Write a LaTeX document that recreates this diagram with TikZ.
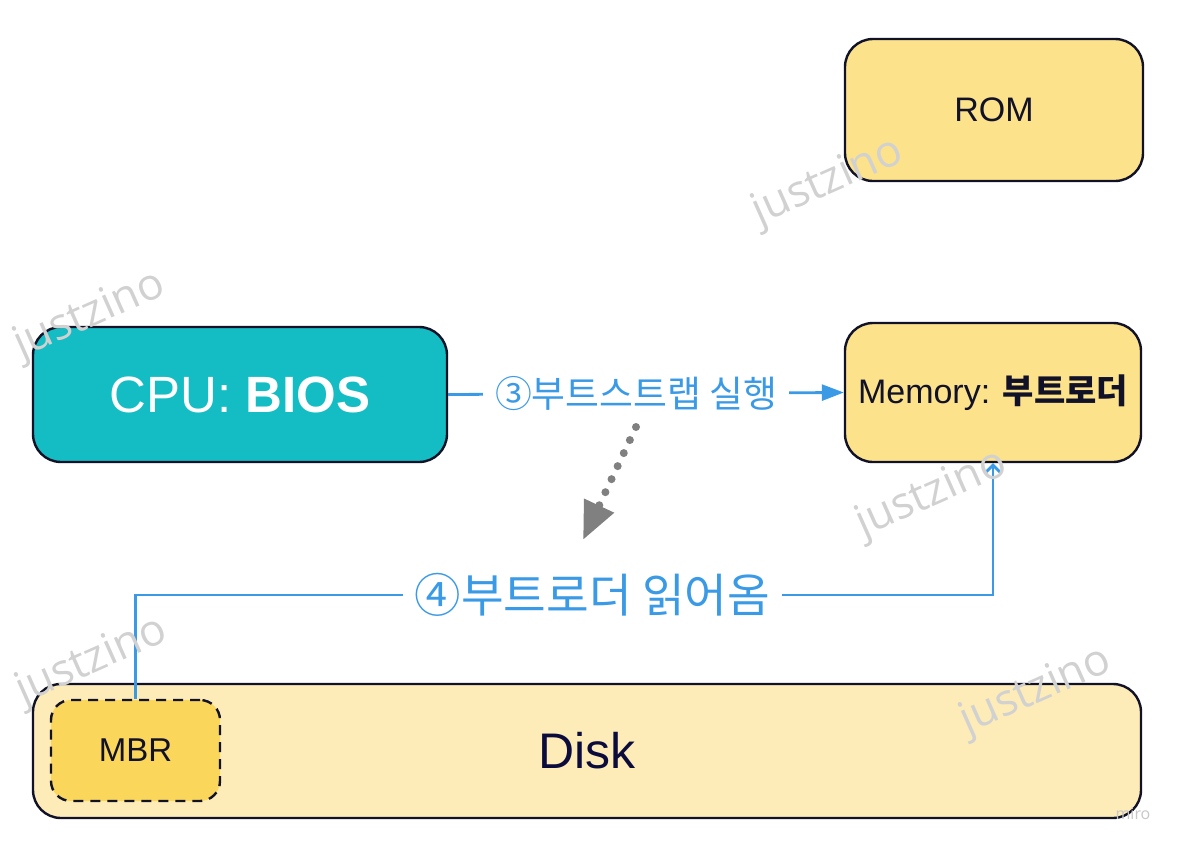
\documentclass[tikz,border=0pt]{standalone}
\usepackage{fontspec}
\setmainfont{Liberation Sans}
\newfontfamily\kr{Noto Sans CJK KR}
\newfontfamily\wmfont{Open Sans}
\usetikzlibrary{arrows.meta}

\definecolor{cpuTeal}{RGB}{20,189,196}
\definecolor{memYellow}{RGB}{252,226,139}
\definecolor{diskYellow}{RGB}{253,236,183}
\definecolor{mbrYellow}{RGB}{250,214,91}
\definecolor{flowBlue}{RGB}{58,154,230}
\definecolor{inkDark}{RGB}{17,17,40}
\definecolor{diskInk}{RGB}{12,12,60}

\tikzset{every picture/.style={line width=0.75pt}}

\begin{document}
\begin{tikzpicture}[x=0.5pt,y=0.5pt,yscale=-1,xscale=1,
  box/.style={draw=inkDark, line width=1.2pt, rounded corners=14pt, inner sep=0pt, align=center, text=inkDark},
  flow/.style={draw=flowBlue, line width=1.4pt},
  tag/.style={fill=white, text=flowBlue, inner xsep=6pt, inner ysep=2pt},
  wmtext/.style={text=black!18, rotate=24, font=\wmfont\fontsize{22}{26}\selectfont}
]
%uncomment if require: \path (0,847);
\useasboundingbox (0,0) rectangle (1180,847);

%Rounded Rect: ROM
\node [box, fill=memYellow, minimum width=149pt, minimum height=71pt, font=\fontsize{17}{20}\selectfont] (rom) at (994,110) {ROM};
%Rounded Rect: CPU
\node [box, fill=cpuTeal, minimum width=207pt, minimum height=67.5pt, text=white, font=\fontsize{25.5}{30}\selectfont] (cpu) at (240,394.5) {CPU: \textbf{BIOS}};
%Rounded Rect: Memory
\node [box, fill=memYellow, minimum width=148pt, minimum height=69.5pt, font=\fontsize{17}{20}\selectfont] (memory) at (993,392.5) {Memory: {\kr\bfseries 부트로더}};
%Rounded Rect: Disk
\node [box, fill=diskYellow, minimum width=554pt, minimum height=67pt, text=diskInk, font=\fontsize{25}{30}\selectfont] (disk) at (587,751) {Disk};
%Rounded Rect: MBR
\node [box, fill=mbrYellow, dashed, dash pattern=on 5pt off 3.5pt, rounded corners=10pt, minimum width=84.5pt, minimum height=50.5pt, font=\fontsize{16.5}{20}\selectfont] (mbr) at (135.5,750.5) {MBR};

%Straight Lines: bootstrap
\draw [flow, -{Triangle[length=11pt,width=8pt]}] (cpu.east) -- node [tag, pos=0.475, font=\kr\fontsize{18.4}{22}\selectfont] {③부트스트랩 실행} (memory.west);

%Straight Lines: read boot loader
\coordinate (bend) at (0,595);
\draw [flow, -{Straight Barb[length=4pt,width=8pt]}] (mbr.north) -- (mbr.north |- bend) -- node [tag, pos=0.533, font=\kr\fontsize{23.2}{28}\selectfont] {④부트로더 읽어옴} (memory.south |- bend) -- (memory.south);

%Dotted arrow
\coordinate (dotstart) at (636,427);
\coordinate (dotend) at (583,540);
\draw [draw=black!50, line width=4pt, line cap=round, dash pattern=on 0pt off 7.2pt, -{Triangle[length=19pt,width=15.5pt,fill=black!50]}] (dotstart) -- (dotend);

% Text Node: watermarks
\node [wmtext] (wm1) at (828,183) {justzino};
\node [wmtext] (wm2) at (90,316) {justzino};
\node [wmtext] (wm3) at (932,495) {justzino};
\node [wmtext] (wm4) at (92,662) {justzino};
\node [wmtext] (wm5) at (1036,692) {justzino};
\node [text=black!22, font=\wmfont\fontsize{8}{10}\selectfont] (miro) at (1133,814) {miro};

\end{tikzpicture}
\end{document}
